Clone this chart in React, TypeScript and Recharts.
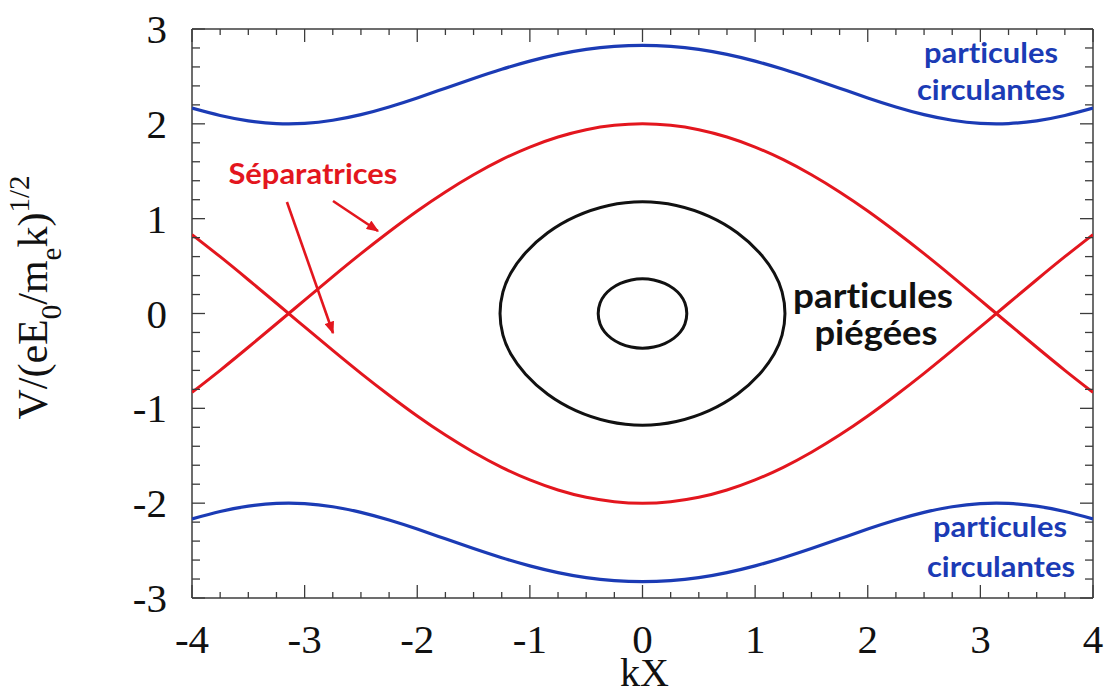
import React from 'react';
import { ScatterChart, Scatter, XAxis, YAxis, ReferenceLine, ReferenceDot, Label } from 'recharts';

const kX = [-4, -3.75, -3.5, -3.25, -3, -2.75, -2.5, -2.25, -2, -1.75, -1.5, -1.25, -1, -0.75, -0.5, -0.25, 0,
  0.25, 0.5, 0.75, 1, 1.25, 1.5, 1.75, 2, 2.25, 2.5, 2.75, 3, 3.25, 3.5, 3.75, 4];

// separatrices (red)
const sepUpperV = [-0.832, -0.599, -0.356, -0.108, 0.141, 0.389, 0.631, 0.862, 1.081, 1.282, 1.463, 1.622, 1.755, 1.861, 1.938, 1.984, 2.0,
  1.984, 1.938, 1.861, 1.755, 1.622, 1.463, 1.282, 1.081, 0.862, 0.631, 0.389, 0.141, -0.108, -0.356, -0.599, -0.832];
const sepLowerV = [0.832, 0.599, 0.356, 0.108, -0.141, -0.389, -0.631, -0.862, -1.081, -1.282, -1.463, -1.622, -1.755, -1.861, -1.938, -1.984, -2.0,
  -1.984, -1.938, -1.861, -1.755, -1.622, -1.463, -1.282, -1.081, -0.862, -0.631, -0.389, -0.141, 0.108, 0.356, 0.599, 0.832];

// circulating particles (blue)
const circUpperV = [2.166, 2.088, 2.032, 2.003, 2.005, 2.038, 2.097, 2.178, 2.273, 2.376, 2.478, 2.575, 2.661, 2.732, 2.785, 2.817, 2.828,
  2.817, 2.785, 2.732, 2.661, 2.575, 2.478, 2.376, 2.273, 2.178, 2.097, 2.038, 2.005, 2.003, 2.032, 2.088, 2.166];
const circLowerV = [-2.166, -2.088, -2.032, -2.003, -2.005, -2.038, -2.097, -2.178, -2.273, -2.376, -2.478, -2.575, -2.661, -2.732, -2.785, -2.817, -2.828,
  -2.817, -2.785, -2.732, -2.661, -2.575, -2.478, -2.376, -2.273, -2.178, -2.097, -2.038, -2.005, -2.003, -2.032, -2.088, -2.166];

// trapped particles (black closed orbits), points read around each loop
const trapOuterX = [1.275, 1.245, 1.18, 1.05, 0.85, 0.6, 0.3, 0, -0.3, -0.6, -0.85, -1.05, -1.18, -1.245,
  -1.275, -1.245, -1.18, -1.05, -0.85, -0.6, -0.3, 0, 0.3, 0.6, 0.85, 1.05, 1.18, 1.245];
const trapOuterV = [0, 0.237, 0.422, 0.641, 0.858, 1.033, 1.152, 1.19, 1.152, 1.033, 0.858, 0.641, 0.422, 0.237,
  0, -0.237, -0.422, -0.641, -0.858, -1.033, -1.152, -1.19, -1.152, -1.033, -0.858, -0.641, -0.422, -0.237];
const trapInnerX = [0.4, 0.38, 0.34, 0.28, 0.2, 0.1, 0, -0.1, -0.2, -0.28, -0.34, -0.38,
  -0.4, -0.38, -0.34, -0.28, -0.2, -0.1, 0, 0.1, 0.2, 0.28, 0.34, 0.38];
const trapInnerV = [0, 0.116, 0.195, 0.264, 0.32, 0.358, 0.37, 0.358, 0.32, 0.264, 0.195, 0.116,
  0, -0.116, -0.195, -0.264, -0.32, -0.358, -0.37, -0.358, -0.32, -0.264, -0.195, -0.116];

const xTicks = Array.from({ length: 33 }, (_, i) => -4 + i * 0.25);
const yTicks = Array.from({ length: 31 }, (_, i) => Math.round((-3 + i * 0.2) * 10) / 10);

const RED = '#e3161e';
const BLUE = '#1b3bb5';
const BLACK = '#111111';
const FRAME = '#3c3c3c';
const SERIF = '"Liberation Serif", "Times New Roman", serif';
const SANS = 'Lato, "Open Sans", sans-serif';

const toPts = (xs: number[], vs: number[]) => xs.map((x, i) => ({ x, v: vs[i] }));
const isMajor = (v: number) => Math.abs(v - Math.round(v)) < 1e-6;
const noDot = () => <g />;

const bottomTick = ({ x, y, payload }: any) => {
  const major = isMajor(payload.value);
  return (
    <g>
      <line x1={x} y1={y} x2={x} y2={y - (major ? 13 : 6)} stroke={FRAME} strokeWidth={1.3} />
      {major && (
        <text x={x} y={y + 55} textAnchor="middle" fontFamily={SERIF} fontSize={41} fill={BLACK}>
          {Math.round(payload.value)}
        </text>
      )}
    </g>
  );
};

const topTick = ({ x, y, payload }: any) => {
  const major = isMajor(payload.value);
  return <line x1={x} y1={y} x2={x} y2={y + (major ? 13 : 6)} stroke={FRAME} strokeWidth={1.3} />;
};

const leftTick = ({ x, y, payload }: any) => {
  const major = isMajor(payload.value);
  return (
    <g>
      <line x1={x} y1={y} x2={x + (major ? 13 : 8)} y2={y} stroke={FRAME} strokeWidth={1.3} />
      {major && (
        <text x={x - 25} y={y + 14} textAnchor="end" fontFamily={SERIF} fontSize={41} fill={BLACK}>
          {Math.round(payload.value)}
        </text>
      )}
    </g>
  );
};

const rightTick = ({ x, y, payload }: any) => {
  const major = isMajor(payload.value);
  return <line x1={x} y1={y} x2={x - (major ? 13 : 8)} y2={y} stroke={FRAME} strokeWidth={1.3} />;
};

const xTitle = ({ viewBox }: any) => (
  <text x={viewBox.x + viewBox.width / 2 + 2} y={viewBox.y + 88} textAnchor="middle" fontFamily={SERIF} fontSize={40} fill={BLACK}>
    kX
  </text>
);

const yTitle = ({ viewBox }: any) => (
  <text
    transform={`translate(47, ${viewBox.y + viewBox.height / 2 - 16}) rotate(-90)`}
    textAnchor="middle"
    fontFamily={SERIF}
    fontSize={42}
    fill={BLACK}
  >
    <tspan>V/(eE</tspan>
    <tspan fontSize={29} dy={14}>0</tspan>
    <tspan dy={-14}>/m</tspan>
    <tspan fontSize={29} dy={14}>e</tspan>
    <tspan dy={-14}>k)</tspan>
    <tspan fontSize={29} dy={-18}>1/2</tspan>
  </text>
);

const note = (text: string, color: string, size: number, width: number) => (p: any) => (
  <text
    x={p.cx}
    y={p.cy}
    textAnchor="middle"
    fontFamily={SANS}
    fontWeight={700}
    fontSize={size}
    fill={color}
    textLength={width}
    lengthAdjust="spacingAndGlyphs"
    style={{ fontVariantLigatures: 'none' }}
  >
    {text}
  </text>
);

const arrow = (p: any) => (
  <line x1={p.x1} y1={p.y1} x2={p.x2} y2={p.y2} stroke={RED} strokeWidth={2.6} markerEnd="url(#redHead)" />
);

export default function App() {
  return (
    <div style={{ position: 'absolute', left: 0, top: 0, width: 1105, height: 694, background: '#fff' }}>
      <svg width={0} height={0} style={{ position: 'absolute' }}>
        <defs>
          <marker id="redHead" viewBox="0 0 10 8" refX={9} refY={4} markerWidth={13} markerHeight={10} markerUnits="userSpaceOnUse" orient="auto">
            <path d="M0,0 L10,4 L0,8 z" fill={RED} />
          </marker>
        </defs>
      </svg>
      <ScatterChart width={1105} height={694} margin={{ top: 28, right: 11, bottom: 95, left: 191 }}>
        <XAxis xAxisId="b" type="number" dataKey="x" domain={[-4, 4]} ticks={xTicks} interval={0} tick={bottomTick}
          tickLine={false} tickSize={0} tickMargin={0} height={1} allowDataOverflow
          axisLine={{ stroke: FRAME, strokeWidth: 1.5 }}>
          <Label content={xTitle} />
        </XAxis>
        <XAxis xAxisId="t" orientation="top" type="number" dataKey="x" domain={[-4, 4]} ticks={xTicks} interval={0} tick={topTick}
          tickLine={false} tickSize={0} tickMargin={0} height={1} allowDataOverflow
          axisLine={{ stroke: FRAME, strokeWidth: 1.5 }} />
        <YAxis yAxisId="l" type="number" dataKey="v" domain={[-3, 3]} ticks={yTicks} interval={0} tick={leftTick}
          tickLine={false} tickSize={0} tickMargin={0} width={1} allowDataOverflow
          axisLine={{ stroke: FRAME, strokeWidth: 1.5 }}>
          <Label content={yTitle} />
        </YAxis>
        <YAxis yAxisId="r" orientation="right" type="number" dataKey="v" domain={[-3, 3]} ticks={yTicks} interval={0} tick={rightTick}
          tickLine={false} tickSize={0} tickMargin={0} width={1} allowDataOverflow
          axisLine={{ stroke: FRAME, strokeWidth: 1.5 }} />

        <Scatter xAxisId="b" yAxisId="l" data={toPts(kX, circUpperV)} shape={noDot} line={{ stroke: BLUE, strokeWidth: 3.2 }} lineJointType="natural" isAnimationActive={false} />
        <Scatter xAxisId="b" yAxisId="l" data={toPts(kX, circLowerV)} shape={noDot} line={{ stroke: BLUE, strokeWidth: 3.2 }} lineJointType="natural" isAnimationActive={false} />
        <Scatter xAxisId="b" yAxisId="l" data={toPts(kX, sepUpperV)} shape={noDot} line={{ stroke: RED, strokeWidth: 3 }} lineJointType="natural" isAnimationActive={false} />
        <Scatter xAxisId="b" yAxisId="l" data={toPts(kX, sepLowerV)} shape={noDot} line={{ stroke: RED, strokeWidth: 3 }} lineJointType="natural" isAnimationActive={false} />
        <Scatter xAxisId="b" yAxisId="l" data={toPts(trapOuterX, trapOuterV)} shape={noDot} line={{ stroke: BLACK, strokeWidth: 3 }} lineJointType="basisClosed" isAnimationActive={false} />
        <Scatter xAxisId="b" yAxisId="l" data={toPts(trapInnerX, trapInnerV)} shape={noDot} line={{ stroke: BLACK, strokeWidth: 3 }} lineJointType="basisClosed" isAnimationActive={false} />

        <ReferenceLine xAxisId="b" yAxisId="l" segment={[{ x: -2.748, y: 1.186 }, { x: -2.349, y: 0.87 }]} shape={arrow} />
        <ReferenceLine xAxisId="b" yAxisId="l" segment={[{ x: -3.157, y: 1.176 }, { x: -2.748, y: -0.206 }]} shape={arrow} />

        <ReferenceDot xAxisId="b" yAxisId="l" x={-2.926} y={1.366} shape={note('Séparatrices', RED, 29, 169)} />
        <ReferenceDot xAxisId="b" yAxisId="l" x={3.094} y={2.641} shape={note('particules', BLUE, 29, 134)} />
        <ReferenceDot xAxisId="b" yAxisId="l" x={3.094} y={2.251} shape={note('circulantes', BLUE, 29, 148)} />
        <ReferenceDot xAxisId="b" yAxisId="l" x={3.174} y={-2.357} shape={note('particules', BLUE, 29, 134)} />
        <ReferenceDot xAxisId="b" yAxisId="l" x={3.183} y={-2.779} shape={note('circulantes', BLUE, 29, 148)} />
        <ReferenceDot xAxisId="b" yAxisId="l" x={2.047} y={0.058} shape={note('particules', BLACK, 34, 160)} />
        <ReferenceDot xAxisId="b" yAxisId="l" x={2.073} y={-0.332} shape={note('piégées', BLACK, 34, 123)} />
      </ScatterChart>
    </div>
  );
}
